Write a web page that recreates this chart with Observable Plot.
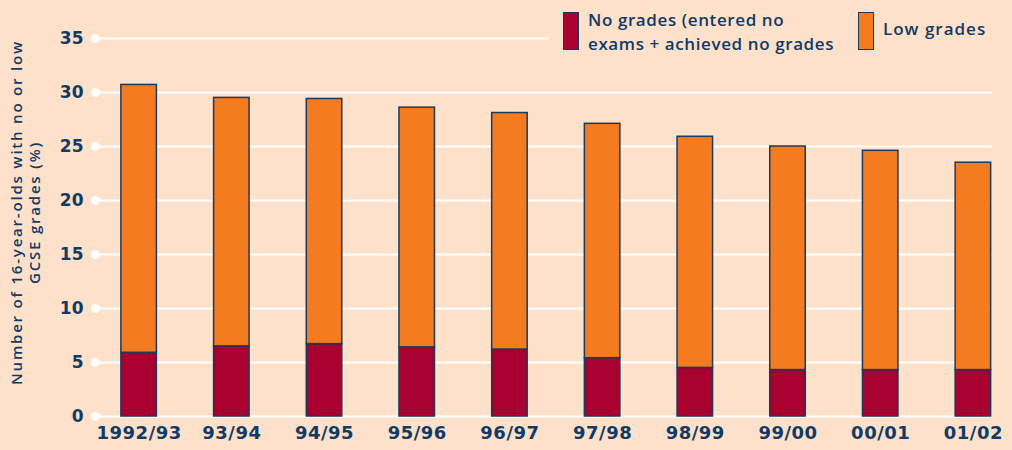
<!DOCTYPE html>
<html>
<head>
<meta charset="utf-8">
<script src="https://cdn.jsdelivr.net/npm/d3@7"></script>
<script src="https://cdn.jsdelivr.net/npm/@observablehq/plot@0.6"></script>
<style>
  html, body { margin: 0; padding: 0; background: #fde1cb; }
  #wrap { position: relative; width: 1012px; height: 450px; background: #fde1cb; overflow: hidden; }
  #legend { position: absolute; left: 549px; top: 0; width: 463px; height: 58px; background: #fde1cb;
            font-family: "Open Sans", sans-serif; font-weight: 600; font-size: 17px; color: #123a63; }
  .sw { position: absolute; box-sizing: border-box; border: 1.5px solid #1a3a5c; }
  .lt { position: absolute; white-space: nowrap; line-height: 24px; letter-spacing: 0.6px; }
</style>
</head>
<body>
<div id="wrap"></div>
<script>
const years = ["1992/93","93/94","94/95","95/96","96/97","97/98","98/99","99/00","00/01","01/02"];
const noGrades = [5.9, 6.5, 6.7, 6.4, 6.2, 5.4, 4.5, 4.3, 4.3, 4.3];
const lowGrades = [24.8, 23.0, 22.7, 22.2, 21.9, 21.7, 21.4, 20.7, 20.3, 19.2];
const seriesNames = ["No grades (entered no exams + achieved no grades", "Low grades"];
const seriesColors = ["#a8002f", "#f47b20"];
const yTicks = [0, 5, 10, 15, 20, 25, 30, 35];
const yLabel = "Number of 16-year-olds with no or low\nGCSE grades (%)";

const navy = "#123a63";
const data = [];
years.forEach((y, i) => {
  data.push({year: y, series: seriesNames[0], value: noGrades[i]});
  data.push({year: y, series: seriesNames[1], value: lowGrades[i]});
});

const chart = Plot.plot({
  width: 1012,
  height: 450,
  marginTop: 38,
  marginBottom: 34,
  marginLeft: 95,
  marginRight: 20,
  style: {background: "#fde1cb", color: navy, fontFamily: "DejaVu Sans, sans-serif", fontWeight: "bold", fontSize: "17px"},
  x: {domain: years, paddingInner: 0.617, paddingOuter: 0.147, align: 0.95, round: false, label: null},
  y: {domain: [0, 35], label: null},
  color: {domain: seriesNames, range: seriesColors},
  marks: [
    Plot.ruleY(yTicks, {stroke: "white", strokeWidth: 2}),
    Plot.dot(yTicks, {y: d => d, frameAnchor: "left", r: 4.5, fill: "white", stroke: "none"}),
    Plot.barY(data, {x: "year", y: "value", fill: "series", stroke: "#1a3a5c", strokeWidth: 1.5}),
    Plot.axisY({ticks: yTicks, tickSize: 0, tickPadding: 12, label: null, fontSize: 17}),
    Plot.axisX({tickSize: 0, tickPadding: 10, label: null, fontSize: 18}),
    Plot.text([yLabel], {text: d => d, frameAnchor: "left", dx: -70, dy: -15, rotate: -90,
      lineAnchor: "middle", textAnchor: "middle", fontSize: 15, fontWeight: 600,
      fontFamily: "Open Sans, sans-serif", fill: navy, lineHeight: 1.15})
  ]
});
chart.querySelectorAll("text").forEach(t => {
  if (t.textContent.includes("Number") || t.textContent.includes("GCSE")) t.setAttribute("letter-spacing", "1.8");
});
const wrap = document.getElementById("wrap");
wrap.appendChild(chart);
chart.querySelectorAll("[aria-label='x-axis tick label'] text").forEach(t => t.setAttribute("letter-spacing", "0.5"));

const legend = document.createElement("div");
legend.id = "legend";
legend.innerHTML = `
  <div class="sw" style="left:14px; top:12px; width:16px; height:38px; background:${seriesColors[0]}"></div>
  <div class="lt" style="left:39px; top:8px;">No grades (entered no<br>exams + achieved no grades</div>
  <div class="sw" style="left:309px; top:12px; width:16px; height:38px; background:${seriesColors[1]}"></div>
  <div class="lt" style="left:334px; top:17px; letter-spacing:1px;">${seriesNames[1]}</div>`;
wrap.appendChild(legend);
</script>
</body>
</html>
